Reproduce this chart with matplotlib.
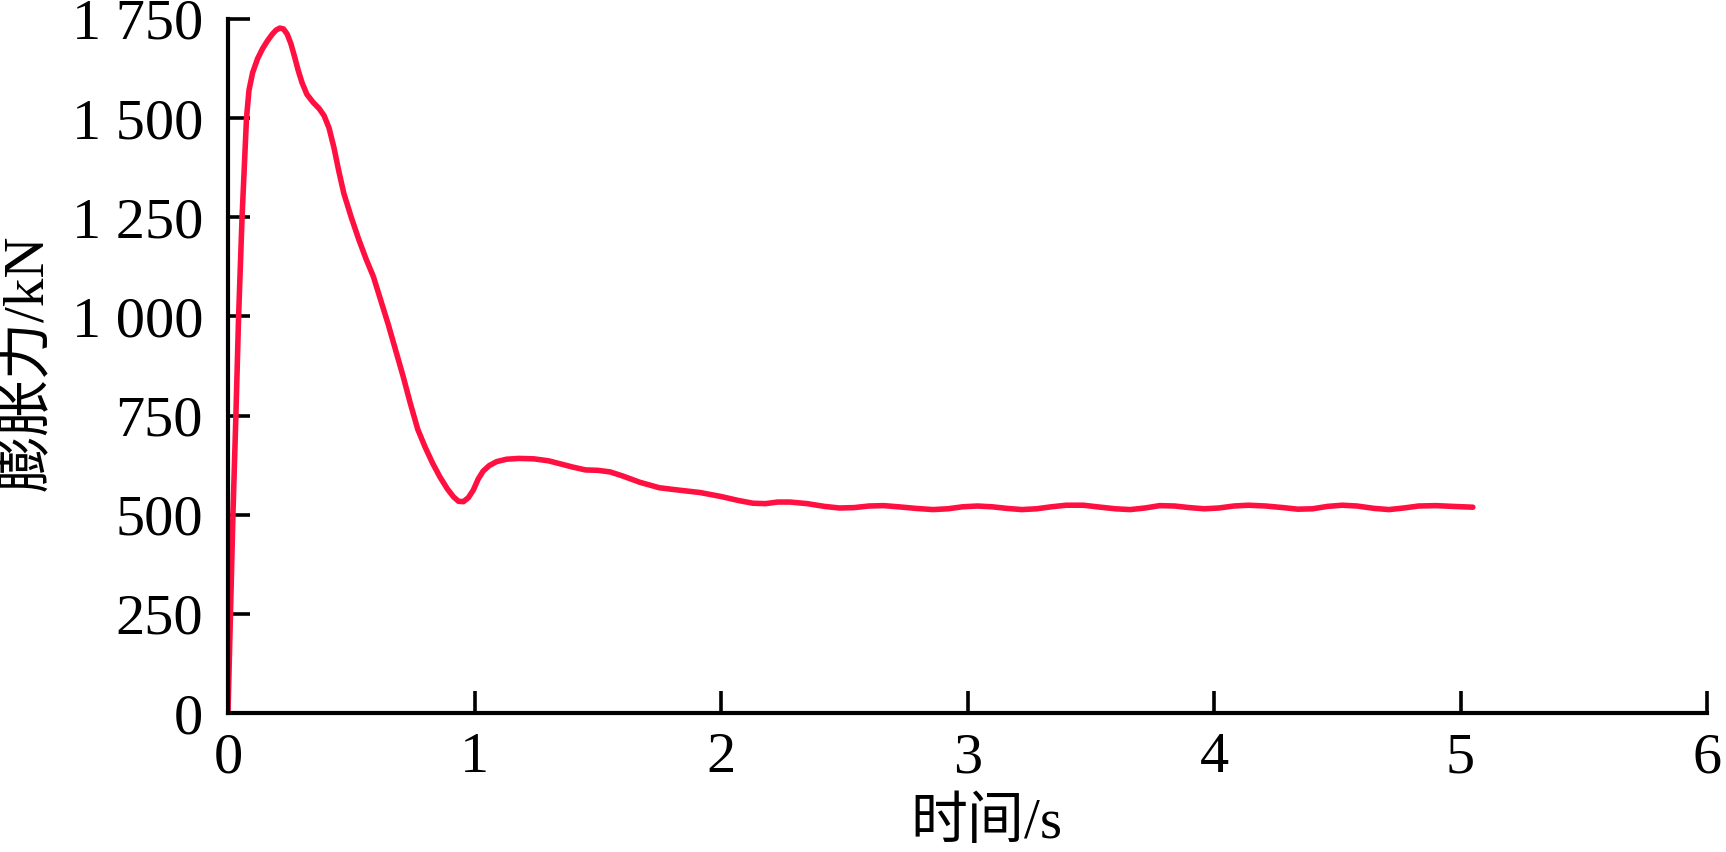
import matplotlib
matplotlib.use("Agg")
import matplotlib.pyplot as plt

plt.rcParams['font.family'] = ['Liberation Serif', 'Noto Sans CJK SC', 'DejaVu Sans']

# time (s) and swelling force (kN)
t = [0, 0.01, 0.02, 0.032, 0.043, 0.057, 0.075, 0.085, 0.10, 0.12, 0.14, 0.16,
     0.18, 0.195, 0.21, 0.225, 0.24, 0.255, 0.27, 0.285, 0.30, 0.32, 0.345,
     0.37, 0.39, 0.41, 0.43, 0.45, 0.47, 0.50, 0.53, 0.56, 0.59, 0.62, 0.65,
     0.68, 0.71, 0.74, 0.77, 0.80, 0.83, 0.86, 0.89, 0.915, 0.935, 0.955, 0.975,
     0.995, 1.015, 1.035, 1.06, 1.09, 1.13, 1.18, 1.24, 1.30, 1.35, 1.40, 1.45,
     1.50, 1.55, 1.60, 1.67, 1.75, 1.83, 1.915, 2.0, 2.07, 2.13, 2.18, 2.23,
     2.28, 2.35, 2.42, 2.48, 2.54, 2.60, 2.66, 2.72, 2.79, 2.86, 2.92, 2.98,
     3.04, 3.10, 3.16, 3.22, 3.28, 3.34, 3.40, 3.47, 3.54, 3.60, 3.66, 3.72,
     3.78, 3.84, 3.90, 3.96, 4.02, 4.08, 4.14, 4.21, 4.28, 4.34, 4.40, 4.46,
     4.52, 4.58, 4.65, 4.71, 4.77, 4.83, 4.90, 4.97, 5.05]
force = [0, 250, 500, 750, 1000, 1250, 1500, 1570, 1615, 1650, 1675, 1695,
         1712, 1722, 1727, 1725, 1712, 1688, 1655, 1620, 1590, 1560, 1540,
         1524, 1506, 1475, 1425, 1365, 1310, 1250, 1195, 1145, 1100, 1040, 980,
         915, 850, 780, 715, 670, 630, 595, 565, 545, 534, 533, 543,
         562, 590, 610, 624, 634, 640, 642, 641, 636, 628, 620, 613,
         612, 608, 598, 582, 568, 562, 556, 546, 536, 529, 528, 532,
         532, 528, 521, 517, 518, 522, 523, 520, 516, 513, 515, 520,
         522, 520, 516, 513, 515, 520, 524, 524, 519, 515, 513, 517,
         523, 522, 518, 515, 517, 522, 524, 522, 518, 514, 515, 521,
         524, 522, 516, 513, 517, 522, 523, 521, 519]

xticks = [0, 1, 2, 3, 4, 5, 6]
yticks = [0, 250, 500, 750, 1000, 1250, 1500, 1750]
ytick_labels = ['0', '250', '500', '750', '1 000', '1 250', '1 500', '1 750']

fig = plt.figure(figsize=(17.26, 8.52), dpi=100)
ax = fig.add_axes([0.1321, 0.1631, 0.8569, 0.8146])

ax.plot(t, force, color='#ff1040', lw=4, solid_joinstyle='round', solid_capstyle='round')

ax.set_xlim(0, 6)
ax.set_ylim(0, 1750)
ax.set_xticks(xticks)
ax.set_yticks(yticks)
ax.set_yticklabels(ytick_labels)

for s in ['top', 'right']:
    ax.spines[s].set_visible(False)
for s in ['left', 'bottom']:
    ax.spines[s].set_linewidth(3)
ax.tick_params(axis='both', direction='in', length=16, width=2.6, labelsize=42)
ax.tick_params(axis='x', pad=14)
ax.tick_params(axis='y', pad=18)

ax.set_xlabel('时间/s', fontsize=41)
ax.set_ylabel('膨胀力/kN', fontsize=41)
ax.xaxis.set_label_coords(0.513, -0.122)
ax.yaxis.set_label_coords(-0.117, 0.505)

fig.savefig('out.png', dpi=100)
